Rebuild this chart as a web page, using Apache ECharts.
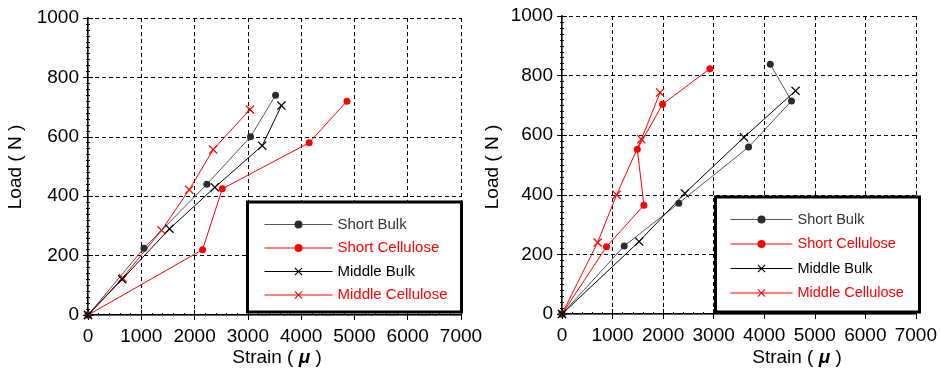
<!DOCTYPE html>
<html>
<head>
<meta charset="utf-8">
<script src="https://cdn.jsdelivr.net/npm/echarts@6/dist/echarts.min.js"></script>
<style>html,body{margin:0;padding:0;background:#fff}#c{width:940px;height:370px}</style>
</head>
<body>
<div id="c"></div>
<script>
// ---------- data ----------
const seriesNames = ['Short Bulk', 'Short Cellulose', 'Middle Bulk', 'Middle Cellulose'];
const xTicks = [0, 1000, 2000, 3000, 4000, 5000, 6000, 7000];
const yTicks = [0, 200, 400, 600, 800, 1000];

// Left panel
const leftShortBulkX = [0, 1050, 2230, 3050, 3520];
const leftShortBulkY = [0, 225, 440, 600, 740];
const leftShortCellX = [0, 2150, 2520, 4150, 4860];
const leftShortCellY = [0, 220, 425, 580, 720];
const leftMiddleBulkX = [0, 640, 1530, 2380, 3270, 3630];
const leftMiddleBulkY = [0, 120, 290, 430, 570, 705];
const leftMiddleCellX = [0, 650, 1380, 1900, 2350, 3040];
const leftMiddleCellY = [0, 125, 285, 422, 557, 692];

// Right panel
const rightShortBulkX = [0, 1230, 2310, 3690, 4540, 4120];
const rightShortBulkY = [0, 228, 372, 560, 715, 838];
const rightShortCellX = [0, 880, 1620, 1490, 1990, 2925];
const rightShortCellY = [0, 226, 365, 553, 704, 823];
const rightMiddleBulkX = [0, 1525, 2430, 3600, 4620];
const rightMiddleBulkY = [0, 243, 405, 593, 749];
const rightMiddleCellX = [0, 705, 1080, 1570, 1940];
const rightMiddleCellY = [0, 240, 400, 586, 743];

// ---------- styling ----------
const FONT = 'Liberation Sans, Arial, Helvetica, sans-serif';
const crossPath = 'path://M0,1L1,0L5,4L9,0L10,1L6,5L10,9L9,10L5,6L1,10L0,9L4,5Z';
const styles = [
  {line: '#555555', sym: '#2b2b2b', symbol: 'circle', size: 7, text: '#333333'},
  {line: '#ff0000', sym: '#ff0000', symbol: 'circle', size: 7, text: '#ff0000'},
  {line: '#000000', sym: '#000000', symbol: crossPath, size: 9, text: '#000000'},
  {line: '#ff0000', sym: '#ff0000', symbol: crossPath, size: 9, text: '#ff0000'}
];

function zip(xs, ys) { return xs.map((x, i) => [x, ys[i]]); }

function makeSeries(idx, xs, ys, axisIdx) {
  const s = styles[idx];
  return {
    name: seriesNames[idx],
    type: 'line',
    xAxisIndex: axisIdx, yAxisIndex: axisIdx,
    data: zip(xs, ys),
    symbol: s.symbol, symbolSize: s.size,
    showAllSymbol: true,
    lineStyle: {color: s.line, width: 1},
    itemStyle: {color: s.sym, borderWidth: 0},
    emphasis: {disabled: true},
    animation: false,
    z: idx % 2 === 0 ? 4 : 3
  };
}

function xAxes(gridIndex) {
  return [
    {
      type: 'value', gridIndex, min: 0, max: 7000, interval: 1000, position: 'bottom',
      axisLine: {show: true, lineStyle: {color: '#000', width: 2}},
      axisTick: {show: true, inside: true, length: 5, lineStyle: {color: '#000'}},
      minorTick: {show: true, splitNumber: 5, length: 2, lineStyle: {color: '#000'}},
      axisLabel: {color: '#000', fontSize: 19, fontFamily: FONT, margin: 12,
        formatter: v => xTicks.includes(v) ? String(v) : ''},
      splitLine: {show: true, lineStyle: {color: '#000', width: 1, type: [4, 3]}}
    },
    {
      type: 'value', gridIndex, min: 0, max: 7000, interval: 1000, position: 'top',
      axisLine: {show: true, lineStyle: {color: '#666', width: 1}},
      axisTick: {show: true, inside: true, length: 5, lineStyle: {color: '#000'}},
      axisLabel: {show: false}, splitLine: {show: false}
    }
  ];
}
function yAxes(gridIndex) {
  return [
    {
      type: 'value', gridIndex, min: 0, max: 1000, interval: 200, position: 'left',
      axisLine: {show: true, lineStyle: {color: '#000', width: 2}},
      axisTick: {show: true, inside: true, length: 5, lineStyle: {color: '#000'}},
      minorTick: {show: true, splitNumber: 10, length: 2, lineStyle: {color: '#000'}},
      axisLabel: {color: '#000', fontSize: 19, fontFamily: FONT, margin: 9,
        formatter: v => yTicks.includes(v) ? String(v) : ''},
      splitLine: {show: true, lineStyle: {color: '#000', width: 1, type: [4, 3]}}
    },
    {
      type: 'value', gridIndex, min: 0, max: 1000, interval: 200, position: 'right',
      axisLine: {show: true, lineStyle: {color: '#666', width: 1}},
      axisTick: {show: true, inside: true, length: 5, lineStyle: {color: '#000'}},
      minorTick: {show: true, splitNumber: 10, length: 2, lineStyle: {color: '#000'}},
      axisLabel: {show: false}, splitLine: {show: false}
    }
  ];
}

function legend(left, top, width, fontSize, gap) {
  return {
    orient: 'vertical', left, top, itemWidth: width, itemHeight: 10, itemGap: gap,
    padding: 0, selectedMode: false, z: 10,
    lineStyle: {width: 1},
    textStyle: {fontFamily: FONT, fontSize, lineHeight: 17},
    data: seriesNames.map((n, i) => ({name: n, textStyle: {color: styles[i].text}}))
  };
}

const chart = echarts.init(document.getElementById('c'), null, {renderer: 'canvas'});
const option = {
  animation: false,
  backgroundColor: '#fff',
  grid: [
    {left: 88, top: 18, width: 373, height: 297},
    {left: 562, top: 16, width: 357, height: 298}
  ],
  xAxis: [...xAxes(0), ...xAxes(1)],
  yAxis: [...yAxes(0), ...yAxes(1)],
  legend: [legend(264, 216, 68, 15, 6.5), legend(730, 211, 62, 14.5, 7.5)],
  series: [
    makeSeries(0, leftShortBulkX, leftShortBulkY, 0),
    makeSeries(1, leftShortCellX, leftShortCellY, 0),
    makeSeries(2, leftMiddleBulkX, leftMiddleBulkY, 0),
    makeSeries(3, leftMiddleCellX, leftMiddleCellY, 0),
    makeSeries(0, rightShortBulkX, rightShortBulkY, 2),
    makeSeries(1, rightShortCellX, rightShortCellY, 2),
    makeSeries(2, rightMiddleBulkX, rightMiddleBulkY, 2),
    makeSeries(3, rightMiddleCellX, rightMiddleCellY, 2)
  ],
  graphic: [
    {type: 'rect', z: 8, shape: {x: 247.5, y: 202, width: 214, height: 110},
      style: {fill: '#fff', stroke: '#000', lineWidth: 3}},
    {type: 'rect', z: 8, shape: {x: 715.5, y: 197, width: 204, height: 115},
      style: {fill: '#fff', stroke: '#000', lineWidth: 3}},
    {type: 'text', z: 9, x: 277, y: 358,
      style: {text: 'Strain ( {m|μ} )', fill: '#000', font: '19px ' + FONT,
        textAlign: 'center', textVerticalAlign: 'middle',
        rich: {m: {fontStyle: 'italic', fontWeight: 'bold', fontSize: 19, fontFamily: FONT}}}},
    {type: 'text', z: 9, x: 797, y: 358,
      style: {text: 'Strain ( {m|μ} )', fill: '#000', font: '19px ' + FONT,
        textAlign: 'center', textVerticalAlign: 'middle',
        rich: {m: {fontStyle: 'italic', fontWeight: 'bold', fontSize: 19, fontFamily: FONT}}}},
    {type: 'text', z: 9, x: 16, y: 167, rotation: Math.PI / 2,
      style: {text: 'Load ( N )', fill: '#000', font: '19px ' + FONT,
        textAlign: 'center', textVerticalAlign: 'middle'}},
    {type: 'text', z: 9, x: 493, y: 167, rotation: Math.PI / 2,
      style: {text: 'Load ( N )', fill: '#000', font: '19px ' + FONT,
        textAlign: 'center', textVerticalAlign: 'middle'}}
  ]
};
chart.setOption(option);
</script>
</body>
</html>
